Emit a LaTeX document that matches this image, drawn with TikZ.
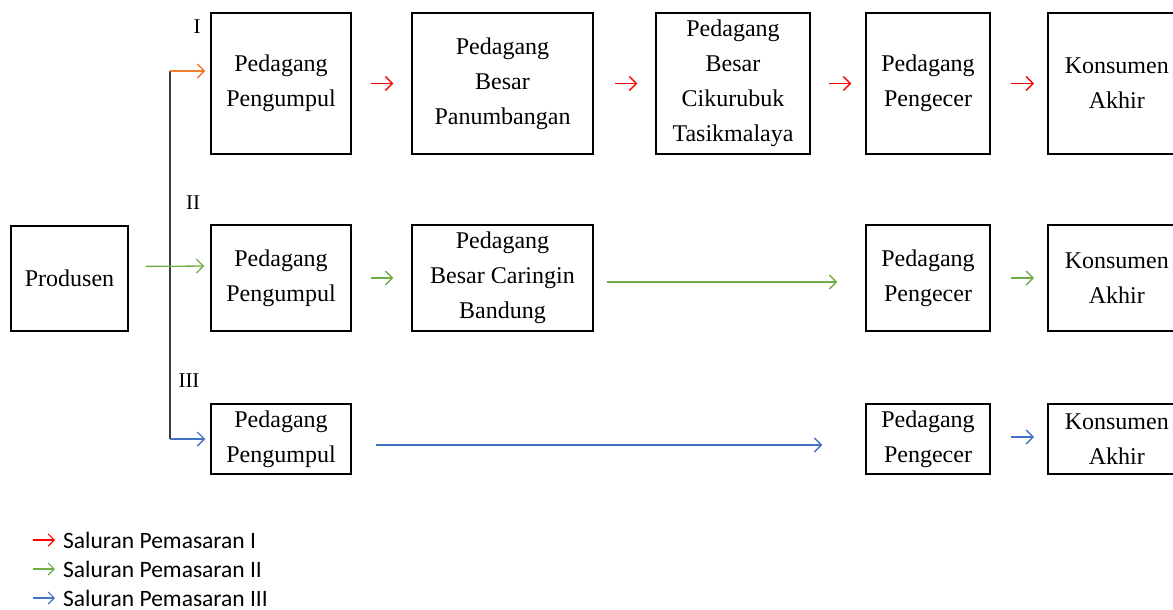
\documentclass[tikz,border=0pt]{standalone}
\usepackage{fontspec}
\setmainfont{Liberation Serif}
\newfontfamily\legendfont{Carlito}
\usetikzlibrary{arrows.meta}
\definecolor{cred}{RGB}{255,0,0}
\definecolor{cgreen}{RGB}{112,173,71}
\definecolor{cblue}{RGB}{68,114,196}
\definecolor{corange}{RGB}{237,125,49}
\definecolor{cline}{RGB}{60,60,60}
\begin{document}
\begin{tikzpicture}[x=1pt,y=-1pt,
 box/.style={draw=black, line width=1.5pt, align=center, font=\fontsize{24}{35}\selectfont, inner sep=0pt},
 flow/.style={line width=1.3pt, -{Straight Barb[length=7pt,width=14pt]}},
 lab/.style={font=\fontsize{21}{25}\selectfont, inner sep=0pt},
 leg/.style={anchor=west, font=\legendfont\fontsize{23.5}{28}\selectfont, inner sep=0pt},
 legarrow/.style={line width=1.2pt, -{Straight Barb[length=6pt,width=12pt]}}
]
\useasboundingbox (0,0) rectangle (1173,610);
% boxes
\node[box, minimum width=117, minimum height=105] (prod) at (69.5,278.5) {Produsen};
% row 1
\node[box, minimum width=140, minimum height=141] (p1) at (281,83.5) {Pedagang\\Pengumpul};
\node[box, minimum width=181, minimum height=141] (b1) at (502.5,83.5) {Pedagang\\Besar\\Panumbangan};
\node[box, minimum width=154, minimum height=141] (c1) at (733,83.5) {Pedagang\\Besar\\Cikurubuk\\Tasikmalaya};
\node[box, minimum width=124, minimum height=141] (e1) at (928,83.5) {Pedagang\\Pengecer};
\node[box, minimum width=138, minimum height=141, anchor=west] (k1) at (1047,83.5) {Konsumen\\Akhir};
% row 2
\node[box, minimum width=140, minimum height=106] (p2) at (281,278) {Pedagang\\Pengumpul};
\node[box, minimum width=181, minimum height=106] (b2) at (502.5,278) {Pedagang\\Besar Caringin\\Bandung};
\node[box, minimum width=124, minimum height=106] (e2) at (928,278) {Pedagang\\Pengecer};
\node[box, minimum width=138, minimum height=106, anchor=west] (k2) at (1047,278) {Konsumen\\Akhir};
% row 3
\node[box, minimum width=140, minimum height=70] (p3) at (281,439) {Pedagang\\Pengumpul};
\node[box, minimum width=124, minimum height=70] (e3) at (928,439) {Pedagang\\Pengecer};
\node[box, minimum width=138, minimum height=70, anchor=west] (k3) at (1047,439) {Konsumen\\Akhir};
% labels
\node[lab] (r1) at (197,27) {I};
\node[lab] (r2) at (193,203) {II};
\node[lab] (r3) at (189,381) {III};
% branching
\coordinate (br1) at (170,71);
\coordinate (br3) at (170,439);
\draw[cline, line width=1.5pt] (br1) -- (br3);
\draw[flow, corange, shorten >=5pt] (br1) -- (p1.west |- br1);
\draw[flow, cblue, shorten >=5pt] (br3) -- (p3.west |- br3);
\draw[flow, cgreen, shorten <=17pt, shorten >=6pt] ([yshift=12pt]prod.east) -- ([yshift=12pt]p2.west);
% row 1 arrows
\draw[flow, cred, shorten <=19pt, shorten >=18pt] (p1) -- (b1);
\draw[flow, cred, shorten <=21pt, shorten >=18pt] (b1) -- (c1);
\draw[flow, cred, shorten <=18pt, shorten >=14pt] (c1) -- (e1);
\draw[flow, cred, shorten <=20pt, shorten >=13pt] (e1.east) -- (k1.west);
% row 2 arrows
\draw[flow, cgreen, shorten <=19pt, shorten >=18pt] (p2) -- (b2);
\draw[flow, cgreen, shorten <=13pt, shorten >=28pt] ([yshift=-4pt]b2.east) -- ([yshift=-4pt]e2.west);
\draw[flow, cgreen, shorten <=20pt, shorten >=13pt] (e2.east) -- (k2.west);
% row 3 arrows
\draw[flow, cblue, shorten <=24pt, shorten >=43pt] ([yshift=-6pt]p3.east) -- ([yshift=-6pt]e3.west);
\draw[flow, cblue, shorten <=20pt, shorten >=13pt] ([yshift=2pt]e3.east) -- ([yshift=2pt]k3.west);
% legend
\node[leg] (l1) at (63,540) {Saluran Pemasaran I};
\node[leg] (l2) at (63,569) {Saluran Pemasaran II};
\node[leg] (l3) at (63,598) {Saluran Pemasaran III};
\draw[legarrow, cred] ([xshift=-30pt]l1.west) -- ([xshift=-8pt]l1.west);
\draw[legarrow, cgreen] ([xshift=-30pt]l2.west) -- ([xshift=-8pt]l2.west);
\draw[legarrow, cblue] ([xshift=-30pt]l3.west) -- ([xshift=-8pt]l3.west);
\end{tikzpicture}
\end{document}
